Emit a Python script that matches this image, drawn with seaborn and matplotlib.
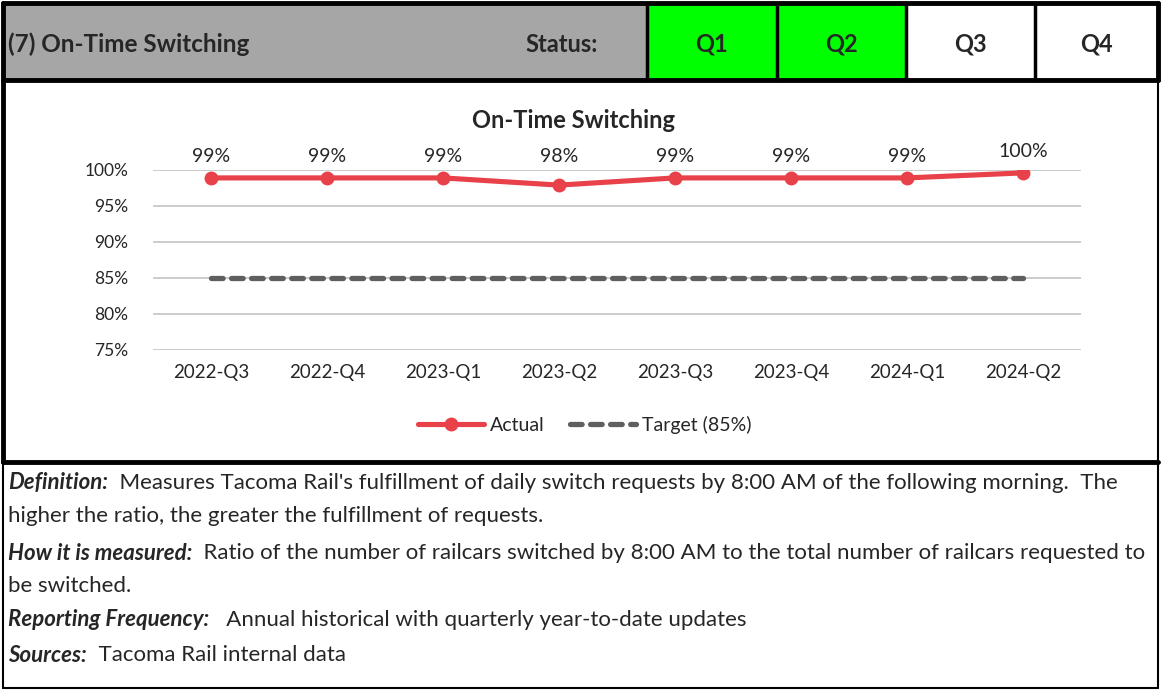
import matplotlib
matplotlib.use("Agg")
import matplotlib.pyplot as plt
from matplotlib.patches import Rectangle
from matplotlib.lines import Line2D
import seaborn as sns
import pandas as pd

# chart data
quarters = ['2022-Q3', '2022-Q4', '2023-Q1', '2023-Q2',
            '2023-Q3', '2023-Q4', '2024-Q1', '2024-Q2']
actual = [98.9, 98.9, 98.9, 97.9, 98.9, 98.9, 98.9, 99.6]
actual_labels = ['99%', '99%', '99%', '98%', '99%', '99%', '99%', '100%']
target = [85, 85, 85, 85, 85, 85, 85, 85]
y_ticks = [75, 80, 85, 90, 95, 100]

status_cols = ['Q1', 'Q2', 'Q3', 'Q4']
status_fill = ['#00FF00', '#00FF00', 'white', 'white']

notes = [
    ('Definition:', "  Measures Tacoma Rail's fulfillment of daily switch requests by 8:00 AM of the following morning.  The"),
    (None, 'higher the ratio, the greater the fulfillment of requests.'),
    ('How it is measured:', '  Ratio of the number of railcars switched by 8:00 AM to the total number of railcars requested to'),
    (None, 'be switched.'),
    ('Reporting Frequency:', '   Annual historical with quarterly year-to-date updates'),
    ('Sources:', '  Tacoma Rail internal data'),
]

sns.set_theme(style='white')
plt.rcParams['font.family'] = ['Lato', 'DejaVu Sans']

W, H = 1161, 690
fig = plt.figure(figsize=(W / 100, H / 100), dpi=100)

# background layer in pixel coords
bg = fig.add_axes([0, 0, 1, 1])
bg.set_xlim(0, W)
bg.set_ylim(H, 0)
bg.axis('off')

# header row
bg.add_patch(Rectangle((3, 3), 644, 77, facecolor='#A6A6A6', edgecolor='none'))
col_edges = [647, 777, 906, 1035, 1158]
for i, lab in enumerate(status_cols):
    x0, x1 = col_edges[i], col_edges[i + 1]
    bg.add_patch(Rectangle((x0, 3), x1 - x0, 77, facecolor=status_fill[i], edgecolor='none'))
    bg.text((x0 + x1) / 2, 44, lab, ha='center', va='center', fontsize=17, fontweight='bold')
    bg.plot([x0, x0], [3, 80], color='black', lw=2.5)
bg.text(8, 44, '(7) On-Time Switching', ha='left', va='center', fontsize=17.5, fontweight='bold')
bg.text(598, 44, 'Status:', ha='right', va='center', fontsize=17, fontweight='bold')

# borders
bg.plot([3, 1158], [3, 3], color='black', lw=3.5)
bg.plot([3, 1158], [80, 80], color='black', lw=3.5)
bg.plot([3, 1158], [462, 462], color='black', lw=3.5)
bg.plot([3, 3], [3, 462], color='black', lw=3.5)
bg.plot([1158, 1158], [3, 80], color='black', lw=3.5)
bg.plot([1158, 1158], [80, 688], color='black', lw=1.5)
bg.plot([3, 3], [462, 688], color='black', lw=1.5)
bg.plot([3, 1158], [688, 688], color='black', lw=1.5)

# notes text
line_y = [483, 516, 553, 586, 620, 655]
for (head, body), y in zip(notes, line_y):
    if head:
        t = bg.text(8, y, head, ha='left', va='center', fontsize=16,
                    fontweight='bold', fontstyle='italic')
        fig.canvas.draw()
        bb = t.get_window_extent()
        inv = bg.transData.inverted()
        x_end = inv.transform((bb.x1, bb.y0))[0]
        bg.text(x_end, y, body, ha='left', va='center', fontsize=16)
    else:
        bg.text(8, y, body, ha='left', va='center', fontsize=16)

# chart
ax = fig.add_axes([153 / W, 1 - 350 / H, (1081 - 153) / W, (350 - 170) / H])
df = pd.DataFrame({'quarter': quarters, 'actual': actual, 'target': target})
sns.lineplot(data=df, x='quarter', y='target', ax=ax, color='#5F5F5F', lw=3.8,
             dashes=False, sort=False)
ax.lines[-1].set_linestyle((0, (2.2, 1.6)))
ax.lines[-1].set_dash_capstyle('round')
sns.lineplot(data=df, x='quarter', y='actual', ax=ax, color='#E8414A', lw=3.7,
             marker='o', markersize=10, markeredgewidth=0, sort=False)

label_base = max(actual[:-1])
for i, (v, lab) in enumerate(zip(actual, actual_labels)):
    ax.annotate(lab, (i, max(v, label_base)), xytext=(0, 9), textcoords='offset points',
                ha='center', va='bottom', fontsize=14)

ax.set_xlim(-0.5, len(quarters) - 0.5)
ax.set_ylim(75, 100)
ax.set_yticks(y_ticks)
ax.set_yticklabels([f'{t}%' for t in y_ticks], fontsize=12.5)
ax.tick_params(axis='x', labelsize=13.5, pad=10, length=0)
ax.tick_params(axis='y', pad=18, length=0)
ax.grid(axis='y', color='#C8C8C8', lw=1.3)
ax.set_axisbelow(True)
for s in ax.spines.values():
    s.set_visible(False)
ax.set_xlabel('')
ax.set_ylabel('')
ax.set_facecolor('none')
ax.set_title('On-Time Switching', fontsize=17, fontweight='bold', pad=30, x=0.453)

handles = [
    Line2D([], [], color='#E8414A', lw=3.7, marker='o', markersize=10, markeredgewidth=0),
    Line2D([], [], color='#5F5F5F', lw=3.8, linestyle=(0, (2.2, 1.6)), dash_capstyle='round'),
]
fig.legend(handles, ['Actual', 'Target (85%)'], loc='center', bbox_to_anchor=(585 / W, 1 - 425 / H),
           ncol=2, frameon=False, fontsize=14, handlelength=3.4, columnspacing=1.3, handletextpad=0.3)

fig.savefig('out.png', dpi=100)
